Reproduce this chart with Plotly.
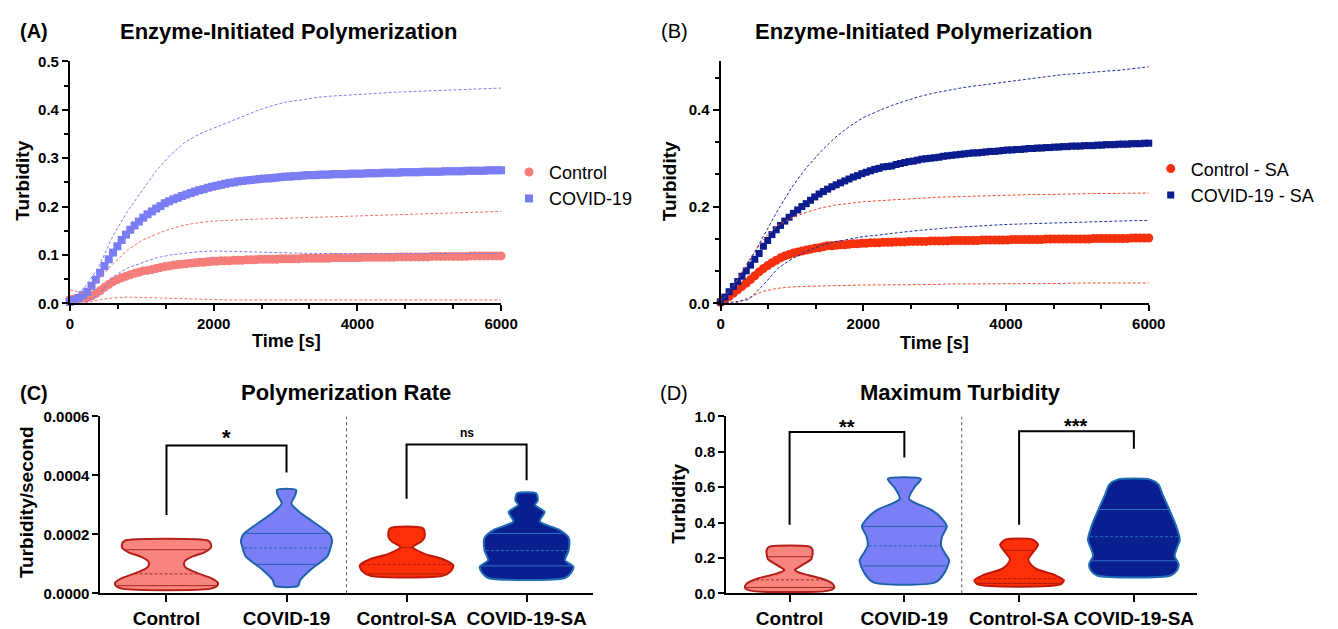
import numpy as np
import plotly.graph_objects as go

W, H = 1338, 629
FONT = "Liberation Sans, Arial, Helvetica, sans-serif"

# ---------------- Panel A / B : kinetic curves ----------------
t_mean = list(range(0, 6001, 60))
t_sd = list(range(0, 6001, 200))

a_control_mean = [
    0.008, 0.009, 0.010, 0.011, 0.012, 0.015, 0.020, 0.026, 0.033, 0.039,
    0.045, 0.049, 0.053, 0.056, 0.059, 0.062, 0.064, 0.067, 0.068, 0.070,
    0.072, 0.074, 0.076, 0.077, 0.079, 0.080, 0.081, 0.082, 0.083, 0.084,
    0.085, 0.085, 0.086, 0.087, 0.087, 0.088, 0.088, 0.088, 0.089, 0.089,
    0.089, 0.090, 0.090, 0.090, 0.091, 0.091, 0.091, 0.091, 0.091, 0.092,
    0.092, 0.092, 0.092, 0.092, 0.093, 0.093, 0.093, 0.093, 0.093, 0.093,
    0.093, 0.094, 0.094, 0.094, 0.094, 0.094, 0.094, 0.094, 0.095, 0.095,
    0.095, 0.095, 0.095, 0.095, 0.095, 0.095, 0.096, 0.096, 0.096, 0.096,
    0.096, 0.096, 0.096, 0.096, 0.097, 0.097, 0.097, 0.097, 0.097, 0.097,
    0.097, 0.097, 0.097, 0.098, 0.098, 0.098, 0.098, 0.098, 0.098, 0.098,
    0.098]
a_covid_mean = [
    0.003, 0.007, 0.011, 0.017, 0.024, 0.036, 0.049, 0.063, 0.077, 0.091,
    0.105, 0.118, 0.131, 0.142, 0.152, 0.161, 0.169, 0.177, 0.184, 0.190,
    0.196, 0.201, 0.207, 0.211, 0.215, 0.218, 0.222, 0.225, 0.228, 0.231,
    0.234, 0.236, 0.239, 0.241, 0.243, 0.245, 0.247, 0.249, 0.250, 0.252,
    0.253, 0.254, 0.255, 0.256, 0.257, 0.258, 0.258, 0.259, 0.260, 0.261,
    0.262, 0.262, 0.263, 0.263, 0.264, 0.265, 0.265, 0.265, 0.266, 0.266,
    0.266, 0.267, 0.267, 0.267, 0.267, 0.268, 0.268, 0.268, 0.268, 0.269,
    0.269, 0.269, 0.269, 0.270, 0.270, 0.270, 0.270, 0.271, 0.271, 0.271,
    0.271, 0.271, 0.272, 0.272, 0.272, 0.272, 0.272, 0.273, 0.273, 0.273,
    0.273, 0.273, 0.274, 0.274, 0.274, 0.274, 0.274, 0.275, 0.275, 0.275,
    0.275]
a_covid_upper = [0.005, 0.032, 0.075, 0.140, 0.190, 0.232, 0.274, 0.307, 0.333, 0.350,
                 0.362, 0.375, 0.387, 0.398, 0.408, 0.416, 0.420, 0.425, 0.428, 0.430,
                 0.432, 0.433, 0.435, 0.437, 0.438, 0.439, 0.440, 0.441, 0.442, 0.444,
                 0.445]
a_covid_lower = [0.000, 0.000, 0.018, 0.055, 0.073, 0.084, 0.094, 0.100, 0.104, 0.107,
                 0.108, 0.108, 0.107, 0.106, 0.105, 0.104, 0.103, 0.103, 0.103, 0.103,
                 0.103, 0.103, 0.103, 0.103, 0.103, 0.103, 0.103, 0.103, 0.103, 0.103,
                 0.103]
a_control_upper = [0.028, 0.020, 0.050, 0.082, 0.110, 0.130, 0.143, 0.154, 0.162, 0.167,
                   0.170, 0.172, 0.173, 0.174, 0.175, 0.176, 0.177, 0.178, 0.179, 0.180,
                   0.181, 0.182, 0.183, 0.184, 0.185, 0.186, 0.187, 0.188, 0.188, 0.189,
                   0.190]
a_control_lower = [0.000, 0.000, 0.007, 0.011, 0.013, 0.012, 0.011, 0.010, 0.009, 0.008,
                   0.008, 0.007, 0.007, 0.007, 0.007, 0.007, 0.007, 0.007, 0.007, 0.007,
                   0.007, 0.007, 0.007, 0.007, 0.007, 0.007, 0.007, 0.007, 0.007, 0.007,
                   0.007]

b_control_mean = [
    0.002, 0.008, 0.014, 0.021, 0.028, 0.035, 0.042, 0.049, 0.057, 0.065,
    0.072, 0.078, 0.084, 0.089, 0.094, 0.098, 0.101, 0.104, 0.106, 0.108,
    0.110, 0.112, 0.114, 0.115, 0.117, 0.119, 0.119, 0.120, 0.121, 0.121,
    0.122, 0.123, 0.123, 0.124, 0.124, 0.125, 0.125, 0.125, 0.126, 0.126,
    0.126, 0.127, 0.127, 0.127, 0.128, 0.128, 0.128, 0.128, 0.128, 0.129,
    0.129, 0.129, 0.129, 0.129, 0.130, 0.130, 0.130, 0.130, 0.130, 0.130,
    0.130, 0.131, 0.131, 0.131, 0.131, 0.131, 0.131, 0.131, 0.132, 0.132,
    0.132, 0.132, 0.132, 0.132, 0.132, 0.132, 0.133, 0.133, 0.133, 0.133,
    0.133, 0.133, 0.133, 0.133, 0.133, 0.133, 0.133, 0.134, 0.134, 0.134,
    0.134, 0.134, 0.134, 0.134, 0.134, 0.134, 0.135, 0.135, 0.135, 0.135,
    0.135]
b_covid_mean = [
    0.003, 0.013, 0.024, 0.035, 0.045, 0.056, 0.067, 0.079, 0.091, 0.103,
    0.118, 0.130, 0.142, 0.152, 0.161, 0.170, 0.178, 0.186, 0.193, 0.200,
    0.206, 0.213, 0.220, 0.226, 0.231, 0.236, 0.241, 0.245, 0.249, 0.253,
    0.257, 0.261, 0.264, 0.268, 0.271, 0.274, 0.277, 0.279, 0.282, 0.283,
    0.284, 0.287, 0.289, 0.291, 0.293, 0.294, 0.296, 0.298, 0.299, 0.300,
    0.301, 0.302, 0.304, 0.305, 0.306, 0.307, 0.308, 0.309, 0.310, 0.311,
    0.311, 0.312, 0.313, 0.314, 0.314, 0.315, 0.316, 0.317, 0.317, 0.318,
    0.318, 0.319, 0.320, 0.320, 0.321, 0.321, 0.322, 0.322, 0.323, 0.323,
    0.324, 0.324, 0.325, 0.325, 0.325, 0.326, 0.326, 0.326, 0.327, 0.327,
    0.328, 0.328, 0.328, 0.329, 0.329, 0.329, 0.330, 0.330, 0.330, 0.331,
    0.331]
b_covid_upper = [0.005, 0.038, 0.085, 0.138, 0.192, 0.240, 0.280, 0.313, 0.342, 0.365,
                 0.384, 0.397, 0.409, 0.419, 0.428, 0.435, 0.441, 0.446, 0.450, 0.454,
                 0.458, 0.462, 0.466, 0.470, 0.473, 0.475, 0.478, 0.480, 0.482, 0.486,
                 0.489]
b_covid_lower = [0.000, 0.003, 0.008, 0.038, 0.072, 0.092, 0.107, 0.119, 0.127, 0.133,
                 0.138, 0.141, 0.145, 0.148, 0.151, 0.154, 0.156, 0.158, 0.160, 0.162,
                 0.163, 0.164, 0.165, 0.166, 0.167, 0.168, 0.169, 0.170, 0.170, 0.171,
                 0.171]
b_control_upper = [0.003, 0.040, 0.090, 0.132, 0.161, 0.177, 0.188, 0.197, 0.203, 0.207,
                   0.210, 0.212, 0.214, 0.216, 0.218, 0.219, 0.220, 0.221, 0.222, 0.223,
                   0.224, 0.224, 0.225, 0.225, 0.226, 0.226, 0.227, 0.227, 0.227, 0.228,
                   0.228]
b_control_lower = [0.000, 0.000, 0.012, 0.025, 0.031, 0.034, 0.035, 0.036, 0.037, 0.037,
                   0.038, 0.038, 0.038, 0.039, 0.039, 0.039, 0.040, 0.040, 0.040, 0.040,
                   0.041, 0.041, 0.041, 0.041, 0.041, 0.042, 0.042, 0.042, 0.042, 0.042,
                   0.042]

# ---------------- Panel C / D : violin profiles ----------------
groups = ["Control", "COVID-19", "Control-SA", "COVID-19-SA"]

c_levels = [
    [0.000015, 0.000025, 0.000035, 0.00005, 0.000065, 0.00008, 0.00009, 0.0001, 0.00011,
     0.000125, 0.00014, 0.000155, 0.000168, 0.000178],
    [0.000025, 0.000045, 0.00008, 0.000125, 0.00016, 0.000177, 0.0002, 0.000243, 0.000275,
     0.000305, 0.00033, 0.000351],
    [0.000059, 0.000075, 0.000095, 0.000118, 0.000134, 0.000157, 0.000175, 0.00019, 0.00022],
    [0.000052, 0.000069, 0.00009, 0.000112, 0.000145, 0.000189, 0.000216, 0.000244, 0.000276,
     0.0003, 0.000315, 0.000339],
]
c_widths = [
    [0.36, 0.42, 0.43, 0.38, 0.28, 0.19, 0.155, 0.145, 0.155, 0.22, 0.32, 0.37, 0.37, 0.35],
    [0.095, 0.115, 0.20, 0.34, 0.37, 0.38, 0.36, 0.22, 0.11, 0.04, 0.07, 0.08],
    [0.30, 0.37, 0.39, 0.29, 0.15, 0.05, 0.12, 0.15, 0.14],
    [0.32, 0.37, 0.39, 0.32, 0.35, 0.35, 0.27, 0.11, 0.15, 0.07, 0.093, 0.08],
]
c_q1 = [0.000026, 0.000098, 0.000066, 0.000093]
c_median = [0.000066, 0.000154, 0.000098, 0.000145]
c_q3 = [0.000148, 0.000203, 0.000155, 0.000203]

d_levels = [
    [0.015, 0.033, 0.057, 0.085, 0.11, 0.131, 0.155, 0.195, 0.222, 0.245, 0.263],
    [0.062, 0.111, 0.185, 0.23, 0.268, 0.323, 0.378, 0.42, 0.47, 0.534, 0.598, 0.647],
    [0.05, 0.074, 0.101, 0.138, 0.165, 0.193, 0.239, 0.275, 0.303],
    [0.101, 0.129, 0.165, 0.211, 0.248, 0.303, 0.395, 0.487, 0.56, 0.615, 0.643],
]
d_widths = [
    [0.34, 0.39, 0.37, 0.27, 0.12, 0.045, 0.10, 0.19, 0.20, 0.20, 0.18],
    [0.27, 0.345, 0.39, 0.35, 0.32, 0.33, 0.37, 0.33, 0.24, 0.04, 0.086, 0.144],
    [0.36, 0.39, 0.32, 0.15, 0.10, 0.08, 0.13, 0.165, 0.12],
    [0.32, 0.375, 0.39, 0.355, 0.37, 0.40, 0.36, 0.30, 0.25, 0.215, 0.144],
]
d_q1 = [0.033, 0.154, 0.056, 0.184]
d_median = [0.076, 0.268, 0.083, 0.320]
d_q3 = [0.207, 0.378, 0.243, 0.474]

# significance brackets
c_pairs = [(0, 1), (2, 3)]
c_left_end = [0.000266, 0.000321]
c_top = [0.000502, 0.000505]
c_right_end = [0.00041, 0.000384]
c_labels = ["*", "ns"]

d_pairs = [(0, 1), (2, 3)]
d_left_end = [0.387, 0.387]
d_top = [0.912, 0.917]
d_right_end = [0.768, 0.818]
d_labels = ["**", "***"]

# ---------------- styles ----------------
col_ctrl = "#F57D7A"
col_covid = "#7A7DF3"
col_ctrl_sa = "#F5300C"
col_covid_sa = "#0A1C8E"
fill_cols = ["#F8847E", "#7B7FF6", "#FC2F08", "#0A1F8F"]
edge_cols = ["#B3201A", "#1D62AA", "#C0180A", "#1E6DB5"]
qline_cols = ["#A52A22", "#2A5FB0", "#A8200E", "#2B6FC2"]

fig = go.Figure()

def curve(x, y, color, symbol, size, name, xa, ya, legend):
    fig.add_trace(go.Scatter(x=x, y=y, mode="markers", name=name,
                             marker=dict(color=color, symbol=symbol, size=size, line=dict(width=0)),
                             xaxis=xa, yaxis=ya, legend=legend, cliponaxis=False))

def sdline(x, y, color, xa, ya):
    fig.add_trace(go.Scatter(x=x, y=y, mode="lines", showlegend=False,
                             line=dict(color=color, width=1, dash="3px,2px"),
                             xaxis=xa, yaxis=ya, hoverinfo="skip"))

# Panel A
curve(t_mean, a_control_mean, col_ctrl, "circle", 9, "Control", "x", "y", "legend")
curve(t_mean, a_covid_mean, col_covid, "square", 8, "COVID-19", "x", "y", "legend")
sdline(t_sd, a_control_upper, "#F07070", "x", "y")
sdline(t_sd, a_control_lower, "#F07070", "x", "y")
sdline(t_sd, a_covid_upper, "#7D7FF0", "x", "y")
sdline(t_sd, a_covid_lower, "#7D7FF0", "x", "y")

# Panel B
curve(t_mean, b_control_mean, col_ctrl_sa, "circle", 9, "Control - SA", "x2", "y2", "legend2")
curve(t_mean, b_covid_mean, col_covid_sa, "square", 7, "COVID-19 - SA", "x2", "y2", "legend2")
sdline(t_sd, b_control_upper, "#F04A2A", "x2", "y2")
sdline(t_sd, b_control_lower, "#F04A2A", "x2", "y2")
sdline(t_sd, b_covid_upper, "#2030A0", "x2", "y2")
sdline(t_sd, b_covid_lower, "#2030A0", "x2", "y2")

# Violins
def violins(levels, widths, q1, med, q3, xa, ya):
    for i in range(4):
        lv = np.array(levels[i]); hw = np.array(widths[i])
        xs = list(i + hw) + list(i - hw[::-1]) + [i + hw[0]]
        ys = list(lv) + list(lv[::-1]) + [lv[0]]
        fig.add_trace(go.Scatter(x=xs, y=ys, mode="lines", fill="toself",
                                 fillcolor=fill_cols[i],
                                 line=dict(color=edge_cols[i], width=2, shape="spline", smoothing=0.7),
                                 showlegend=False, xaxis=xa, yaxis=ya, hoverinfo="skip"))
        for q, dash in ((q1[i], "solid"), (med[i], "3px,2px"), (q3[i], "solid")):
            w = float(np.interp(q, lv, hw)) * 0.97
            fig.add_trace(go.Scatter(x=[i - w, i + w], y=[q, q], mode="lines",
                                     line=dict(color=qline_cols[i], width=1, dash=dash),
                                     showlegend=False, xaxis=xa, yaxis=ya, hoverinfo="skip"))

violins(c_levels, c_widths, c_q1, c_median, c_q3, "x3", "y3")
violins(d_levels, d_widths, d_q1, d_median, d_q3, "x4", "y4")

# separators
fig.add_trace(go.Scatter(x=[1.5, 1.5], y=[0, 0.0006], mode="lines",
                         line=dict(color="#555555", width=1, dash="dot"),
                         showlegend=False, xaxis="x3", yaxis="y3", hoverinfo="skip"))
fig.add_trace(go.Scatter(x=[1.5, 1.5], y=[0, 1.0], mode="lines",
                         line=dict(color="#555555", width=1, dash="dot"),
                         showlegend=False, xaxis="x4", yaxis="y4", hoverinfo="skip"))

annotations = []

def brackets(pairs, le, top, re, labels, xa, ya, sizes, shifts):
    for k, (a, b) in enumerate(pairs):
        fig.add_trace(go.Scatter(x=[a, a, b, b], y=[le[k], top[k], top[k], re[k]], mode="lines",
                                 line=dict(color="black", width=2),
                                 showlegend=False, xaxis=xa, yaxis=ya, hoverinfo="skip",
                                 cliponaxis=False))
        annotations.append(dict(text=labels[k], x=(a + b) / 2, y=top[k], xref=xa, yref=ya,
                                showarrow=False, xanchor="center", yanchor="bottom",
                                yshift=shifts[k],
                                font=dict(family=FONT, size=sizes[k], color="black", weight="bold")))

brackets(c_pairs, c_left_end, c_top, c_right_end, c_labels, "x3", "y3", [22, 12], [-7, 2])
brackets(d_pairs, d_left_end, d_top, d_right_end, d_labels, "x4", "y4", [20, 20], [-8, -8])

def ann(text, xpx, ypx, size, bold=True, angle=0):
    annotations.append(dict(text=text, x=xpx / W, y=1 - ypx / H, xref="paper", yref="paper",
                            showarrow=False, xanchor="center", yanchor="middle", textangle=angle,
                            font=dict(family=FONT, size=size, color="black",
                                      weight="bold" if bold else "normal")))

ann("(A)", 30, 23, 20, True)
ann("Enzyme-Initiated Polymerization", 289, 23, 22, True)
ann("(B)", 681, 23, 20, False)
ann("Enzyme-Initiated Polymerization", 934, 23, 22, True)
ann("(C)", 30, 395, 20, True)
ann("Polymerization Rate", 347, 395, 22, True)
ann("(D)", 681, 395, 20, False)
ann("Maximum Turbidity", 972, 395, 22, True)
ann("Turbidity", 19, 177, 19, True, -90)
ann("Time [s]", 287, 342, 18, True)
ann("Turbidity", 677, 177, 19, True, -90)
ann("Time [s]", 945, 344, 18, True)
ann("Turbidity/second", 23, 508, 19, True, -90)
ann("Turbidity", 685, 509, 19, True, -90)

tickfont = dict(family=FONT, size=15, color="black", weight="bold")
base = dict(showline=True, linecolor="black", linewidth=2, ticks="outside", tickwidth=2,
            ticklen=6, tickcolor="black", showgrid=False, zeroline=False, tickfont=tickfont,
            fixedrange=True)

def px_dom(a, b, total):
    return [a / total, b / total]

ydomA = [1 - 303 / H, 1 - 54 / H]
ydomC = [1 - 601.5 / H, 1 - 419.5 / H]
minor_x = dict(dtick=2000 / 3, ticks="outside", ticklen=4, tickwidth=2, tickcolor="black")
catfont = dict(family=FONT, size=19, color="black", weight="bold")

fig.update_layout(
    width=W, height=H, margin=dict(l=0, r=0, t=0, b=0),
    paper_bgcolor="white", plot_bgcolor="white",
    font=dict(family=FONT, color="black"),
    xaxis=dict(base, domain=px_dom(67, 505, W), range=[0, 6000], dtick=2000, anchor="y",
               minor=minor_x),
    yaxis=dict(base, domain=ydomA, range=[0, 0.5], dtick=0.1, tickformat=".1f", anchor="x",
               minor=dict(dtick=0.05, ticks="outside", ticklen=4, tickwidth=2, tickcolor="black")),
    xaxis2=dict(base, domain=px_dom(728, 1163, W), range=[0, 6000], dtick=2000, anchor="y2",
                minor=minor_x),
    yaxis2=dict(base, domain=ydomA, range=[0, 0.5], dtick=0.2, tickformat=".1f", anchor="x2",
                minor=dict(dtick=0.2 / 3, ticks="outside", ticklen=4, tickwidth=2, tickcolor="black")),
    xaxis3=dict(base, domain=px_dom(98, 598, W), range=[-0.55, 3.55], tickvals=[0, 1, 2, 3],
                ticktext=groups, anchor="y3", tickfont=catfont, ticklen=7),
    yaxis3=dict(base, domain=ydomC, range=[0, 0.0006], dtick=0.0002, tickformat=".4f", anchor="x3"),
    xaxis4=dict(base, domain=px_dom(734, 1212, W), range=[-0.55, 3.55], tickvals=[0, 1, 2, 3],
                ticktext=groups, anchor="y4", tickfont=catfont, ticklen=7),
    yaxis4=dict(base, domain=ydomC, range=[0, 1.0], dtick=0.2, tickformat=".1f", anchor="x4"),
    legend=dict(x=513 / W, y=1 - 181.5 / H, xanchor="left", yanchor="middle",
                font=dict(family=FONT, size=18, color="black"), bgcolor="rgba(0,0,0,0)",
                itemsizing="trace"),
    legend2=dict(x=1165 / W, y=1 - 178 / H, xanchor="left", yanchor="middle",
                 font=dict(family=FONT, size=18, color="black"), bgcolor="rgba(0,0,0,0)",
                 itemsizing="trace"),
    annotations=annotations,
    showlegend=True,
)

fig.write_html("out.html", config={"displayModeBar": False, "staticPlot": False},
               post_script="document.body.style.margin='0px';document.body.style.overflow='hidden';")
